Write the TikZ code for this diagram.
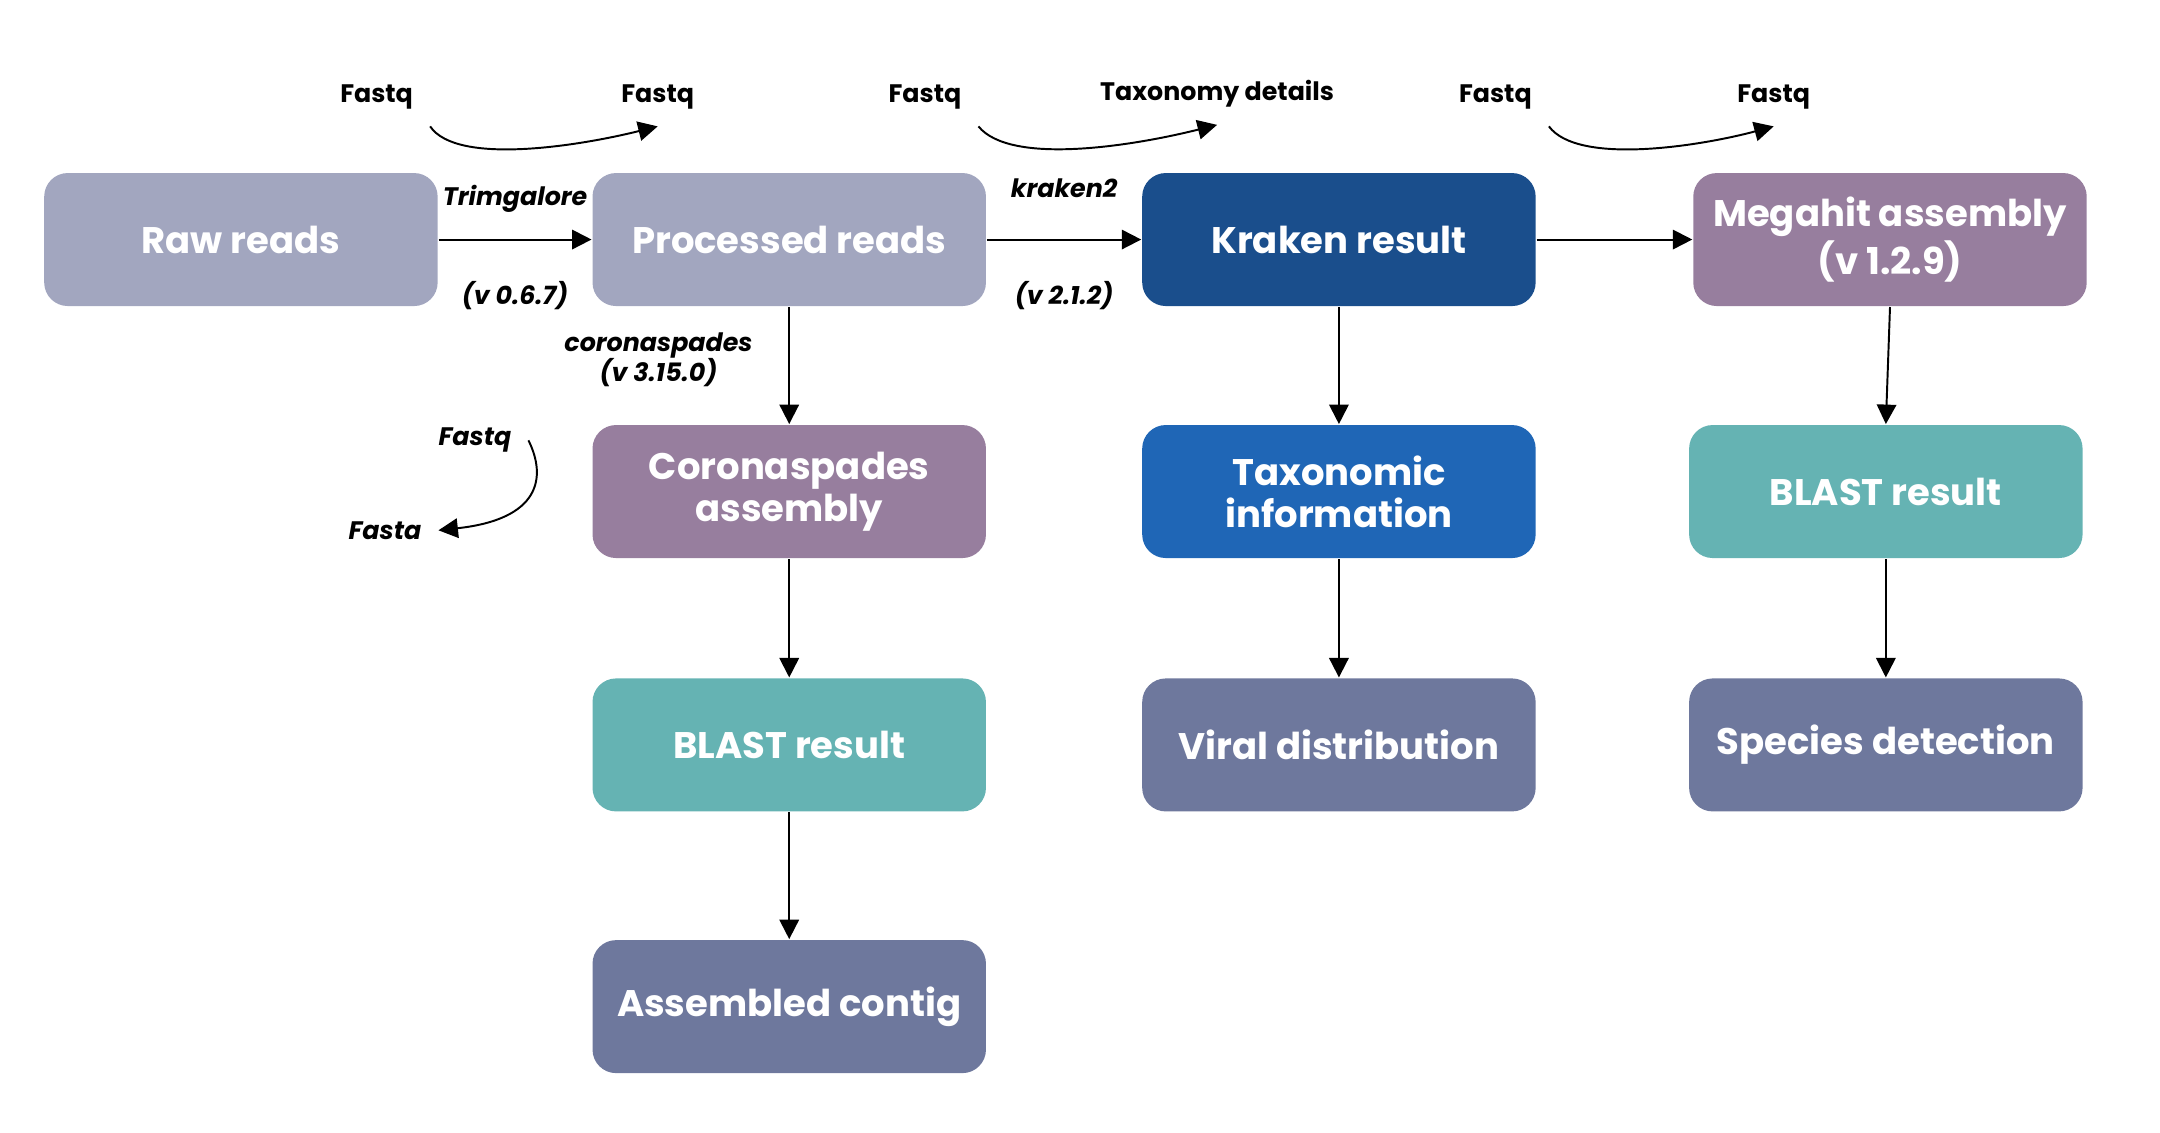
\documentclass[tikz,border=0pt]{standalone}
\usepackage{fontspec}
\setmainfont{Poppins}
\usepackage{xcolor}
\usetikzlibrary{positioning}
\usetikzlibrary{calc}
\usetikzlibrary{arrows.meta}

\definecolor{ReadGrey}{HTML}{A2A6BF}
\definecolor{KrakenBlue}{HTML}{1A4E8C}
\definecolor{TaxBlue}{HTML}{1F66B6}
\definecolor{AsmPurple}{HTML}{977E9E}
\definecolor{BlastTeal}{HTML}{65B3B3}
\definecolor{ResSlate}{HTML}{6E789D}

\tikzset{
	box/.style={
		rounded corners=0.17cm,
		text=white,
		align=center,
		font=\fontsize{7.6}{8.6}\selectfont\bfseries,
		minimum width=2.84cm,
		minimum height=0.96cm,
		inner sep=1pt
	},
	lbl/.style={font=\fontsize{5.2}{6.2}\selectfont\bfseries\itshape},
	flbl/.style={font=\fontsize{5.2}{6.2}\selectfont\bfseries}
}

\begin{document}
\begin{tikzpicture}[x=0.01cm, y=-0.01cm]

\useasboundingbox (0,0) rectangle (1560,818);

\node[box, fill=ReadGrey] (raw) at (174,173) {Raw reads};

\node[box, fill=ReadGrey] (processed) at (570,173) {Processed reads};

\node[box, fill=KrakenBlue] (kraken) at (967,173) {Kraken result};

\node[box, fill=AsmPurple] (megahit) at (1365,173) {Megahit assembly\\(v 1.2.9)};

\node[box, fill=AsmPurple] (corona) at (570,355) {Coronaspades\\assembly};

\node[box, fill=TaxBlue] (taxinfo) at (967,355) {Taxonomic\\information};

\node[box, fill=BlastTeal] (blastMega) at (1362,355) {BLAST result};

\node[box, fill=BlastTeal] (blastCorona) at (570,538) {BLAST result};

\node[box, fill=ResSlate] (viral) at (967,538) {Viral distribution};

\node[box, fill=ResSlate] (species) at (1362,538) {Species detection};

\node[box, fill=ResSlate] (contig) at (570,727) {Assembled contig};

% ---

\draw[-{Triangle[length=4pt,width=4pt]}] (raw.east) -- (processed.west)
	node[midway, above=2pt, lbl]{Trimgalore}
	node[midway, below=5pt, lbl]{(v 0.6.7)};

\draw[-{Triangle[length=4pt,width=4pt]}] (processed.east) -- (kraken.west)
	node[midway, above=5pt, lbl]{kraken2}
	node[midway, below=5pt, lbl]{(v 2.1.2)};

\draw[-{Triangle[length=4pt,width=4pt]}] (kraken.east) -- (megahit.west);

\draw[-{Triangle[length=4pt,width=4pt]}] (processed.south) -- (corona.north)
	node[pos=0.45, left=4pt, lbl, align=center]{coronaspades\\(v 3.15.0)};

\draw[-{Triangle[length=4pt,width=4pt]}] (corona.south) -- (blastCorona.north);
\draw[-{Triangle[length=4pt,width=4pt]}] (blastCorona.south) -- (contig.north);
\draw[-{Triangle[length=4pt,width=4pt]}] (kraken.south) -- (taxinfo.north);
\draw[-{Triangle[length=4pt,width=4pt]}] (taxinfo.south) -- (viral.north);
\draw[-{Triangle[length=4pt,width=4pt]}] (megahit.south) -- (blastMega.north);
\draw[-{Triangle[length=4pt,width=4pt]}] (blastMega.south) -- (species.north);

% --- format notes

\node[flbl] (fq1) at (272,70) {Fastq};
\node[flbl] (fq2) at (475,70) {Fastq};
\node[flbl] (fq3) at (668,70) {Fastq};
\node[flbl] (taxd) at (879,68) {Taxonomy details};
\node[flbl] (fq4) at (1080,70) {Fastq};
\node[flbl] (fq5) at (1281,70) {Fastq};
\node[lbl] (fq6) at (343,318) {Fastq};
\node[lbl] (fa1) at (278,383) {Fasta};

\draw[-{Triangle[length=4pt,width=4pt]}] (fq1.south east) .. controls (330,120) and (420,105) .. (fq2.south);
\draw[-{Triangle[length=4pt,width=4pt]}] (fq3.south east) .. controls (730,120) and (820,105) .. (taxd.south);
\draw[-{Triangle[length=4pt,width=4pt]}] (fq4.south east) .. controls (1140,120) and (1230,105) .. (fq5.south);
\draw[-{Triangle[length=4pt,width=4pt]}] (fq6.east) .. controls (395,345) and (390,375) .. (fa1.east);

\end{tikzpicture}
\end{document}
